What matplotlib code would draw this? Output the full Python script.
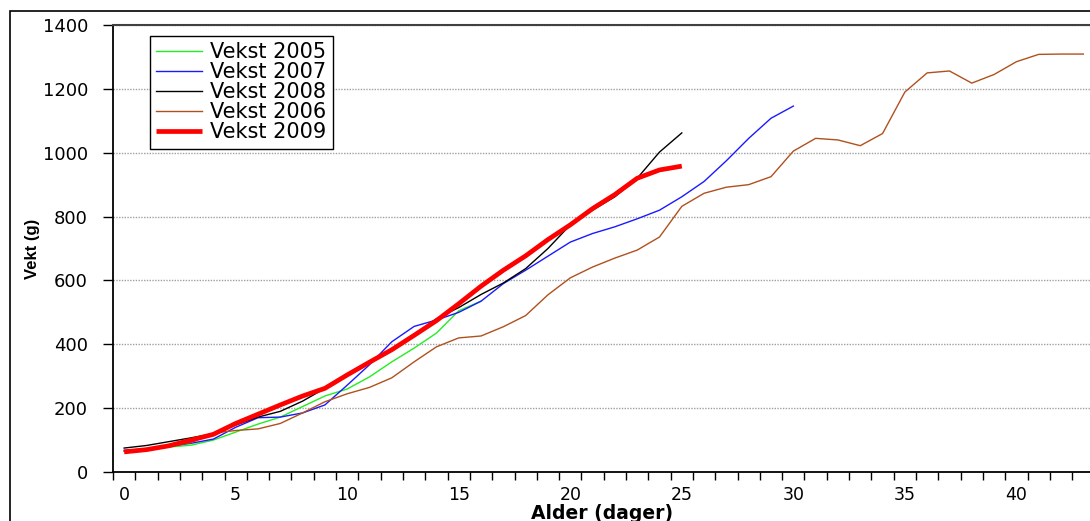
import numpy as np
import matplotlib
matplotlib.use("Agg")
import matplotlib.pyplot as plt
from matplotlib.patches import Rectangle

# Data (weight in grams per day of age)
days_2005 = list(range(0, 17))
vekst_2005 = [65, 70, 78, 84, 100, 125, 150, 172, 205, 238, 260, 298, 345, 388, 435, 505, 535]

days_2007 = list(range(0, 31))
vekst_2007 = [68, 72, 80, 90, 103, 140, 170, 172, 185, 210, 272, 336, 408, 456, 476, 500,
              535, 590, 632, 676, 720, 747, 768, 793, 820, 862, 910, 975, 1045, 1108, 1146]

days_2008 = list(range(0, 26))
vekst_2008 = [75, 83, 95, 107, 120, 147, 172, 190, 222, 262, 302, 343, 385, 430, 480, 515,
              556, 592, 637, 700, 774, 820, 862, 920, 1002, 1062]

days_2006 = list(range(0, 44))
vekst_2006 = [65, 70, 80, 92, 122, 130, 135, 152, 185, 220, 245, 265, 295, 345, 392, 420,
              426, 455, 490, 555, 608, 642, 670, 695, 736, 832, 873, 892, 900, 925, 1005,
              1045, 1040, 1022, 1060, 1190, 1250, 1256, 1218, 1245, 1285, 1308, 1309, 1309]

days_2009 = list(range(0, 26))
vekst_2009 = [63, 70, 82, 100, 118, 152, 181, 210, 238, 262, 304, 344, 383, 428, 474, 527,
              582, 632, 677, 728, 774, 825, 869, 920, 946, 958]

plt.rcParams['font.family'] = ['DejaVu Sans']

W, H = 1090, 521
fig = plt.figure(figsize=(W / 100, H / 100), dpi=100)
ax = fig.add_axes([113 / W, (H - 472) / H, (W - 113) / W, 447 / H])

# Series (same order as the Excel legend)
ax.plot(days_2005, vekst_2005, color='#22ee22', lw=1.0, label='Vekst 2005')
ax.plot(days_2007, vekst_2007, color='#1a1aff', lw=1.0, label='Vekst 2007')
ax.plot(days_2008, vekst_2008, color='black', lw=1.0, label='Vekst 2008')
ax.plot(days_2006, vekst_2006, color='#b0501e', lw=1.0, label='Vekst 2006')
ax.plot(days_2009, vekst_2009, color='#ff0000', lw=3.4, label='Vekst 2009',
        solid_capstyle='butt')

# Axes limits and ticks
ax.set_xlim(-0.5, 43.3)
ax.set_ylim(0, 1400)
ax.set_yticks(np.arange(0, 1401, 200))
ax.set_xticks(np.arange(0, 41, 5))
ax.set_xticks(np.arange(-0.5, 43.3, 1), minor=True)
ax.tick_params(axis='x', which='major', length=0, pad=10, labelsize=12.5)
ax.tick_params(axis='x', which='minor', length=6, width=1, direction='out', color='black')
ax.tick_params(axis='y', length=7, width=1, direction='out', pad=11, labelsize=13)

# Grid lines
ax.yaxis.grid(True, color='#a0a0a0', linestyle=(0, (1, 1)), lw=1.0)
ax.set_axisbelow(True)

for side in ['left', 'bottom']:
    ax.spines[side].set_linewidth(1.3)
    ax.spines[side].set_color('black')
ax.spines['top'].set_linewidth(1.5)
ax.spines['top'].set_color('#404040')
ax.spines['right'].set_visible(False)

# Axis labels
fig.text(33 / W, (H - 249) / H, 'Vekt (g)', rotation=90, ha='center', va='center',
         fontsize=12, fontweight='bold', family='Liberation Sans')
fig.text(602 / W, 2 / H, 'Alder (dager)', ha='center', va='baseline',
         fontsize=13.5, fontweight='bold')

# Legend
leg = ax.legend(loc='upper left', bbox_to_anchor=(150 / W, (H - 36) / H),
                bbox_transform=fig.transFigure, borderaxespad=0, fontsize=15,
                frameon=True, fancybox=False, edgecolor='black', framealpha=1,
                handlelength=2.2, handletextpad=0.4, labelspacing=0.0, borderpad=0.3)
leg.get_frame().set_linewidth(1.0)

# Outer chart border
fig.patches.append(Rectangle((10 / W, -0.05), 2, (H - 11) / H + 0.05, fill=False,
                             edgecolor='black', lw=1.2, transform=fig.transFigure,
                             figure=fig))

fig.savefig('out.png', dpi=100)
